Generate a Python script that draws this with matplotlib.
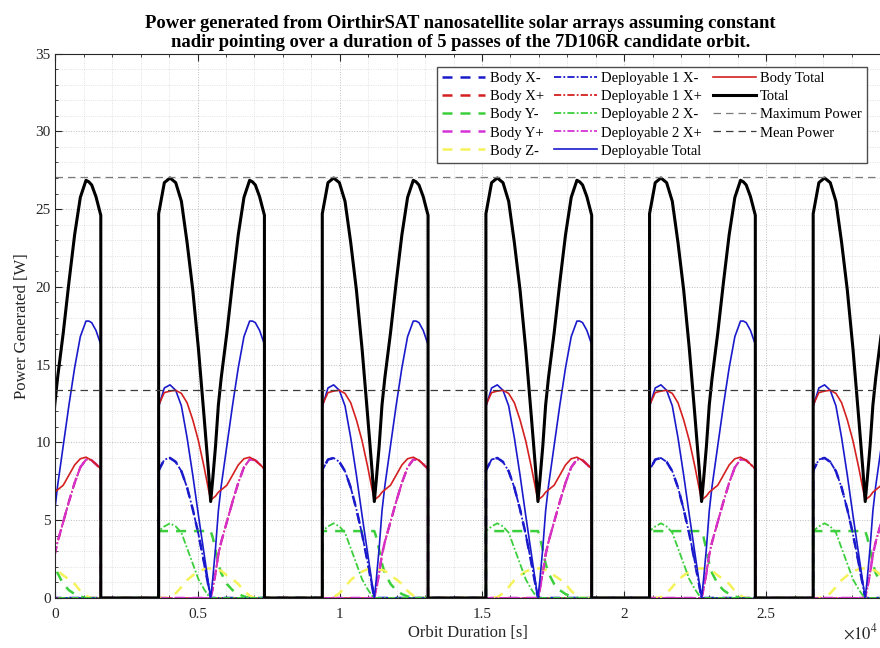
import numpy as np
import matplotlib.pyplot as plt
from matplotlib.ticker import MultipleLocator

plt.rcParams['font.family'] = ['Liberation Serif', 'DejaVu Sans']
plt.rcParams['mathtext.fontset'] = 'stix'

# time since the start of a sunlit arc [s], one arc per orbit
arc_t = [0, 200, 400, 600, 800, 1000, 1200, 1400, 1600, 1750, 1830, 1900,
         2000, 2100, 2200, 2400, 2600, 2800, 3000, 3200, 3300, 3400, 3550, 3720]

# power per face over one sunlit arc [W]
body_xm = [8.2, 8.9, 9.0, 8.75, 8.15, 7.1, 5.7, 4.1, 2.25, 0.8, 0, 0,
           0, 0, 0, 0, 0, 0, 0, 0, 0, 0, 0, 0]
body_xp = [0] * 24
body_ym = [4.3, 4.3, 4.3, 4.3, 4.3, 4.3, 4.3, 4.3, 4.3, 4.3, 4.3, 3.9,
           3.1, 2.2, 1.6, 0.9, 0.5, 0.25, 0.1, 0, 0, 0, 0, 0]
body_yp = [0, 0, 0, 0, 0, 0, 0, 0, 0, 0, 0, 0.6,
           1.6, 2.8, 3.6, 4.9, 6.2, 7.4, 8.4, 8.9, 8.9, 8.85, 8.6, 8.3]
body_zm = [0, 0, 0.05, 0.3, 0.7, 1.15, 1.45, 1.7, 1.85, 1.9, 1.9, 1.9,
           1.85, 1.8, 1.75, 1.45, 1.2, 0.9, 0.45, 0.15, 0.05, 0, 0, 0]
dep1_xm = [8.2, 8.9, 9.0, 8.75, 8.15, 7.1, 5.7, 4.1, 2.25, 0.8, 0, 0,
           0, 0, 0, 0, 0, 0, 0, 0, 0, 0, 0, 0]
dep1_xp = [0, 0, 0, 0, 0, 0, 0, 0, 0, 0, 0, 0.6,
           1.6, 2.8, 3.6, 4.9, 6.2, 7.4, 8.4, 8.9, 8.9, 8.85, 8.6, 8.3]
dep2_xm = [4.3, 4.6, 4.8, 4.6, 4.2, 3.2, 2.2, 1.2, 0.55, 0.15, 0, 0,
           0, 0, 0, 0, 0, 0, 0, 0, 0, 0, 0, 0]
dep2_xp = [0, 0, 0, 0, 0, 0, 0, 0, 0, 0, 0, 0.6,
           1.6, 2.8, 3.6, 4.9, 6.2, 7.4, 8.4, 8.9, 8.9, 8.85, 8.6, 8.3]
dep_total = [12.3, 13.5, 13.7, 13.35, 12.35, 10.3, 7.9, 5.3, 2.8, 0.95, 0, 1.2,
             3.2, 5.6, 7.2, 9.8, 12.4, 14.8, 16.8, 17.8, 17.8, 17.7, 17.2, 16.3]
body_total = [12.4, 13.2, 13.3, 13.35, 13.15, 12.55, 11.45, 10.1, 8.4, 7.0, 6.3, 6.4,
              6.55, 6.8, 6.95, 7.25, 7.9, 8.55, 8.95, 9.05, 8.95, 8.85, 8.6, 8.3]
total = [24.7, 26.7, 27.0, 26.7, 25.5, 22.85, 19.8, 16.0, 11.6, 8.2, 6.2, 7.6,
         9.75, 12.4, 14.15, 17.05, 20.3, 23.35, 25.75, 26.85, 26.75, 26.55, 25.8, 24.6]

max_power = 27.05
mean_power = 13.35

orbit_period = 5755   # s
first_arc = -2125     # start of the sunlit arc that is under way at t = 0
n_arcs = 6
t_max = 29000


def unroll(vals):
    t, y = [], []
    for k in range(n_arcs):
        t0 = first_arc + k * orbit_period
        t += [t0 + s for s in arc_t] + [t0 + arc_t[-1], t0 + orbit_period]
        y += list(vals) + [0, 0]
    return np.array(t), np.array(y)


blue = '#1a1acc'
red = '#d42020'
green = '#3ccf3c'
magenta = '#d633d6'
yellow = '#f5f25a'

dash = (0, (4, 3.2))
dashdot = (0, (4, 1.2, 1, 1.2))

series = [
    ('Body X-', body_xm, blue, dash, 1.8),
    ('Body X+', body_xp, red, dash, 1.8),
    ('Body Y-', body_ym, green, dash, 1.8),
    ('Body Y+', body_yp, magenta, dash, 1.8),
    ('Body Z-', body_zm, yellow, dash, 1.8),
    ('Deployable 1 X-', dep1_xm, blue, dashdot, 1.3),
    ('Deployable 1 X+', dep1_xp, red, dashdot, 1.3),
    ('Deployable 2 X-', dep2_xm, green, dashdot, 1.3),
    ('Deployable 2 X+', dep2_xp, magenta, dashdot, 1.3),
    ('Deployable Total', dep_total, blue, '-', 1.2),
    ('Body Total', body_total, red, '-', 1.2),
    ('Total', total, 'black', '-', 2.2),
]

fig = plt.figure(figsize=(8.8, 6.48), dpi=100)
ax = fig.add_axes([0.063, 0.0772, 0.937, 0.8402])

for name, vals, col, ls, lw in series:
    t, y = unroll(vals)
    ax.plot(t, y, color=col, linestyle=ls, linewidth=lw, label=name)

ax.axhline(max_power, color='#7a7a7a', linestyle=(0, (6, 4)), linewidth=0.9,
           label='Maximum Power')
ax.axhline(mean_power, color='#3c3c3c', linestyle=(0, (6, 4)), linewidth=0.9,
           label='Mean Power')

ax.set_xlim(0, t_max)
ax.set_ylim(0, 35)
ax.set_xticks([0, 5000, 10000, 15000, 20000, 25000])
ax.set_xticklabels(['0', '0.5', '1', '1.5', '2', '2.5'])
ax.xaxis.set_minor_locator(MultipleLocator(1000))
ax.yaxis.set_major_locator(MultipleLocator(5))
ax.yaxis.set_minor_locator(MultipleLocator(1))
ax.tick_params(which='both', direction='in', top=True, right=False,
               labelsize=11, colors='#262626')
ax.tick_params(which='major', length=5, width=0.8)
ax.tick_params(which='minor', length=2.5, width=0.6)
ax.tick_params(axis='x', which='major', pad=7)
ax.grid(which='major', linestyle=':', color='#bdbdbd', linewidth=0.7)
ax.grid(which='minor', linestyle=':', color='#d9d9d9', linewidth=0.6)
ax.set_axisbelow(True)
for side in ['left', 'top', 'bottom']:
    ax.spines[side].set_color('#262626')
    ax.spines[side].set_linewidth(0.8)
ax.spines['right'].set_visible(False)

ax.set_xlabel('Orbit Duration [s]', fontsize=12, color='#262626', labelpad=3)
ax.set_ylabel('Power Generated [W]', fontsize=12, color='#262626', labelpad=4)
ax.set_title('Power generated from OirthirSAT nanosatellite solar arrays assuming constant\n'
             'nadir pointing over a duration of 5 passes of the 7D106R candidate orbit.',
             fontsize=13.4, fontweight='bold', pad=5, linespacing=1.12, x=0.491)
fig.text(0.998, 0.008, r'$\times10^{4}$', ha='right', va='bottom', fontsize=12,
         color='#262626')

leg = ax.legend(ncol=3, loc='upper right', bbox_to_anchor=(0.984, 0.975),
                borderaxespad=0, fontsize=10.5, handlelength=2.95,
                handletextpad=0.3, columnspacing=0.7, labelspacing=0.33,
                borderpad=0.35, fancybox=False, framealpha=1,
                edgecolor='#4d4d4d')
leg.get_frame().set_linewidth(1.0)

fig.savefig('out.png', dpi=100)
